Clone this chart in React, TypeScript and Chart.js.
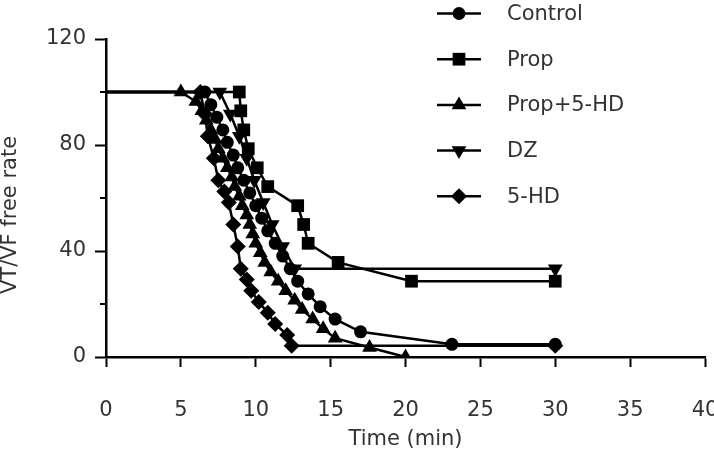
import React, { useEffect, useRef } from 'react';
import { Chart, registerables } from 'chart.js';

Chart.register(...registerables);

const seriesNames = ['Control', 'Prop', 'Prop+5-HD', 'DZ', '5-HD'];
const xTickValues = [0, 5, 10, 15, 20, 25, 30, 35, 40];
const yTickLabels = [0, 40, 80, 120];
const yMinorTicks = [20, 60, 100];

const controlTime = [0, 6.6, 7.0, 7.4, 7.8, 8.1, 8.5, 8.8, 9.2, 9.6, 10.0, 10.4, 10.8, 11.3, 11.8, 12.3, 12.8, 13.5, 14.3, 15.3, 17.0, 23.1, 30];
const controlRate = [100, 100, 95.2, 90.5, 85.7, 81.0, 76.2, 71.4, 66.7, 61.9, 57.1, 52.4, 47.6, 42.9, 38.1, 33.3, 28.6, 23.8, 19.0, 14.3, 9.5, 4.8, 4.8];

const propTime = [0, 8.9, 9.0, 9.2, 9.5, 10.1, 10.8, 12.8, 13.2, 13.5, 15.5, 20.4, 30];
const propRate = [100, 100, 92.9, 85.7, 78.6, 71.4, 64.3, 57.1, 50.0, 42.9, 35.7, 28.6, 28.6];

const prop5hdTime = [0, 5.0, 6.0, 6.4, 6.7, 7.0, 7.3, 7.5, 7.8, 8.1, 8.4, 8.6, 8.9, 9.1, 9.4, 9.6, 9.8, 10.0, 10.3, 10.6, 11.0, 11.5, 12.0, 12.6, 13.1, 13.8, 14.5, 15.3, 17.6, 20.0];
const prop5hdRate = [100, 100, 96.4, 92.9, 89.3, 85.7, 82.1, 78.6, 75.0, 71.4, 67.9, 64.3, 60.7, 57.1, 53.6, 50.0, 46.4, 42.9, 39.3, 35.7, 32.1, 28.6, 25.0, 21.4, 17.9, 14.3, 10.7, 7.1, 3.6, 0];

const dzTime = [0, 7.6, 8.3, 8.9, 9.4, 9.9, 10.5, 11.1, 11.8, 12.6, 30];
const dzRate = [100, 100, 91.7, 83.3, 75.0, 66.7, 58.3, 50.0, 41.7, 33.3, 33.3];

const hd5Time = [0, 6.3, 6.6, 6.8, 7.2, 7.5, 7.9, 8.2, 8.5, 8.8, 9.0, 9.4, 9.7, 10.2, 10.8, 11.3, 12.1, 12.4, 30];
const hd5Rate = [100, 100, 91.7, 83.3, 75.0, 66.7, 62.5, 58.3, 50.0, 41.7, 33.3, 29.2, 25.0, 20.8, 16.7, 12.5, 8.3, 4.2, 4.2];

const FONT = 'DejaVu Sans';
const TEXT = '#333';

type Shape = 'circle' | 'rect' | 'triangle' | 'invTriangle' | 'rectRot';
const shapes: Shape[] = ['circle', 'rect', 'triangle', 'invTriangle', 'rectRot'];
const radii = [6.5, 9, 8.5, 8.5, 8];

function pts(t: number[], v: number[]) {
  return t.map((x, i) => ({ x, y: v[i] }));
}

function drawShape(ctx: CanvasRenderingContext2D, shape: Shape, x: number, y: number, r: number) {
  ctx.beginPath();
  if (shape === 'circle') {
    ctx.arc(x, y, r, 0, Math.PI * 2);
  } else if (shape === 'rect') {
    const s = r * Math.SQRT1_2;
    ctx.rect(x - s, y - s, 2 * s, 2 * s);
  } else if (shape === 'triangle' || shape === 'invTriangle') {
    const d = shape === 'triangle' ? 1 : -1;
    for (let k = 0; k < 3; k++) {
      const a = (k * 2 * Math.PI) / 3;
      const px = x + Math.sin(a) * r * d;
      const py = y - Math.cos(a) * r * d;
      if (k === 0) ctx.moveTo(px, py);
      else ctx.lineTo(px, py);
    }
    ctx.closePath();
  } else {
    ctx.moveTo(x - r, y);
    ctx.lineTo(x, y - r);
    ctx.lineTo(x + r, y);
    ctx.lineTo(x, y + r);
    ctx.closePath();
  }
  ctx.fill();
}

const decorPlugin = {
  id: 'decor',
  afterDraw(chart: any) {
    const ctx: CanvasRenderingContext2D = chart.ctx;
    const yScale = chart.scales.y;
    const left = chart.chartArea.left;
    ctx.save();
    ctx.strokeStyle = '#000';
    ctx.lineWidth = 2;
    yMinorTicks.forEach((v) => {
      const py = yScale.getPixelForValue(v);
      ctx.beginPath();
      ctx.moveTo(left - 6, py);
      ctx.lineTo(left, py);
      ctx.stroke();
    });
    ctx.fillStyle = TEXT;
    ctx.font = `21px "${FONT}"`;
    ctx.textAlign = 'center';
    ctx.textBaseline = 'middle';
    ctx.translate(11, 215);
    ctx.rotate(-Math.PI / 2);
    ctx.fillText('VT/VF free rate', 0, 0);
    ctx.restore();

    ctx.save();
    chart.data.datasets.forEach((ds: any, i: number) => {
      const y = 13.5 + 45.7 * i;
      ctx.strokeStyle = '#000';
      ctx.lineWidth = 2.5;
      ctx.beginPath();
      ctx.moveTo(437, y);
      ctx.lineTo(481, y);
      ctx.stroke();
      ctx.fillStyle = '#000';
      drawShape(ctx, shapes[i], 459, y, radii[i]);
      ctx.fillStyle = TEXT;
      ctx.font = `21px "${FONT}"`;
      ctx.textAlign = 'left';
      ctx.textBaseline = 'middle';
      ctx.fillText(ds.label, 507, y + 1);
    });
    ctx.restore();
  },
};

export default function App() {
  const ref = useRef<HTMLCanvasElement>(null);
  useEffect(() => {
    if (!ref.current) return;
    const series = [
      pts(controlTime, controlRate),
      pts(propTime, propRate),
      pts(prop5hdTime, prop5hdRate),
      pts(dzTime, dzRate),
      pts(hd5Time, hd5Rate),
    ];
    const styleMap: any[] = ['circle', 'rect', 'triangle', 'triangle', 'rectRot'];
    const chart = new Chart(ref.current, {
      type: 'scatter',
      data: {
        datasets: series.map((d, i) => ({
          label: seriesNames[i],
          data: d,
          showLine: true,
          borderColor: '#000',
          backgroundColor: '#000',
          borderWidth: 2.5,
          pointStyle: styleMap[i],
          pointRotation: i === 3 ? 180 : 0,
          pointRadius: (c: any) => (c.dataIndex === 0 ? 0 : radii[i]),
          pointBorderWidth: 0,
          pointBackgroundColor: '#000',
          pointBorderColor: '#000',
        })),
      },
      options: {
        responsive: false,
        animation: false,
        layout: { padding: { top: 39, right: 9, left: 0, bottom: 0 } },
        plugins: { legend: { display: false }, tooltip: { enabled: false } },
        scales: {
          x: {
            type: 'linear',
            min: 0,
            max: 40,
            afterBuildTicks: (s: any) => {
              s.ticks = xTickValues.map((v) => ({ value: v }));
            },
            afterFit: (s: any) => {
              s.height = 98;
              s.paddingRight = 0;
              s.paddingLeft = 0;
            },
            border: { display: true, color: '#000', width: 2.5 },
            grid: { drawOnChartArea: false, drawTicks: true, tickLength: 10, tickColor: '#000', tickWidth: 2 },
            ticks: { color: TEXT, font: { family: FONT, size: 21 }, padding: 31, maxRotation: 0 },
            title: { display: true, text: 'Time (min)', color: TEXT, font: { family: FONT, size: 21 }, padding: { top: 0, bottom: 3 } },
          },
          y: {
            type: 'linear',
            min: 0,
            max: 120,
            afterBuildTicks: (s: any) => {
              s.ticks = yTickLabels.map((v) => ({ value: v }));
            },
            afterFit: (s: any) => {
              s.width = 106;
            },
            border: { display: true, color: '#000', width: 2.5 },
            grid: { drawOnChartArea: false, drawTicks: true, tickLength: 11, tickColor: '#000', tickWidth: 2 },
            ticks: { color: TEXT, font: { family: FONT, size: 21 }, padding: 9 },
          },
        },
      },
      plugins: [decorPlugin],
    } as any);
    return () => chart.destroy();
  }, []);
  return (
    <div style={{ position: 'absolute', left: 0, top: 0, width: 714, height: 455, background: '#fff' }}>
      <canvas ref={ref} width={714} height={455} />
    </div>
  );
}
